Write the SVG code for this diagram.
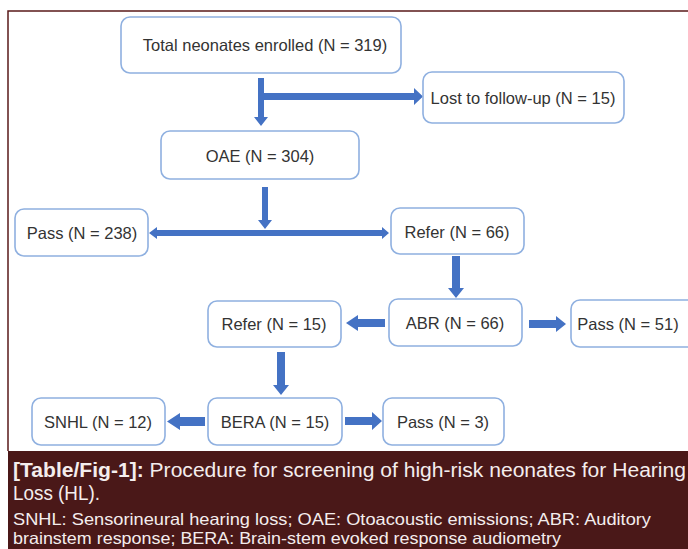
<svg xmlns="http://www.w3.org/2000/svg" width="688" height="549" viewBox="0 0 688 549">
<style>
.box{fill:#fff;stroke:#8fb0e0;stroke-width:1.6}
.t{font-family:"Liberation Sans",Arial,sans-serif;font-size:16.5px;fill:#333;text-anchor:middle;dominant-baseline:central}
.arr{fill:#4472c4}
.cap{font-family:"Liberation Sans",Arial,sans-serif;fill:#f4eded}
</style>
<rect x="0" y="0" width="688" height="549" fill="#fff"/>
<path d="M8,451 V11 H688" fill="none" stroke="#5a1a1a" stroke-width="1.5"/>
<g id="connectors">
  <polygon class="arr" points="258,78 264,78 264,117 268,117 261,126 254,117 258,117"/>
  <polygon class="arr" points="261,93 414,93 414,88 423,96.5 414,105 414,100 261,100"/>
  <polygon class="arr" points="262,187 268,187 268,220 272,220 265,229 258,220 262,220"/>
  <polygon class="arr" points="157,230 382,230 382,227 389,233 382,239 382,236 157,236 157,239 149,233 157,227"/>
  <polygon class="arr" points="452,256 460,256 460,288 464,288 456,298 448,288 452,288"/>
  <polygon class="arr" points="385,319 358,319 358,315 346,323 358,331 358,327 385,327"/>
  <polygon class="arr" points="529,320 556,320 556,316 566,324 556,332 556,328 529,328"/>
  <polygon class="arr" points="277,352 285,352 285,385 289,385 281,395 273,385 277,385"/>
  <polygon class="arr" points="205,417 180,417 180,413 167,421.5 180,430 180,426 205,426"/>
  <polygon class="arr" points="345,417 372,417 372,412 382,421 372,430 372,425 345,425"/>
</g>
<g id="n1"><rect class="box" x="121" y="17" width="280" height="56" rx="9"/><text class="t" x="265" y="45">Total neonates enrolled (N = 319)</text></g>
<g id="n2"><rect class="box" x="423" y="72" width="201" height="51" rx="9"/><text class="t" x="523" y="98">Lost to follow-up (N = 15)</text></g>
<g id="n3"><rect class="box" x="161" y="131" width="198" height="48" rx="9"/><text class="t" x="260" y="156">OAE (N = 304)</text></g>
<g id="n4"><rect class="box" x="15" y="209" width="133" height="47" rx="9"/><text class="t" x="82" y="233">Pass (N = 238)</text></g>
<g id="n5"><rect class="box" x="391" y="208" width="133" height="46" rx="9"/><text class="t" x="457" y="232">Refer (N = 66)</text></g>
<g id="n6"><rect class="box" x="208" y="301" width="133" height="46" rx="9"/><text class="t" x="274" y="324">Refer (N = 15)</text></g>
<g id="n7"><rect class="box" x="389" y="299" width="133" height="47" rx="9"/><text class="t" x="455" y="323">ABR (N = 66)</text></g>
<g id="n8"><rect class="box" x="571" y="300" width="130" height="47" rx="9"/><text class="t" x="628" y="324">Pass (N = 51)</text></g>
<g id="n9"><rect class="box" x="32" y="398" width="133" height="47" rx="9"/><text class="t" x="98" y="422">SNHL (N = 12)</text></g>
<g id="n10"><rect class="box" x="208" y="398" width="134" height="47" rx="9"/><text class="t" x="275" y="422">BERA (N = 15)</text></g>
<g id="n11"><rect class="box" x="383" y="398" width="121" height="47" rx="9"/><text class="t" x="443" y="422">Pass (N = 3)</text></g>
<g id="caption">
  <rect x="8" y="451" width="680" height="98" fill="#4a1818"/>
  <text class="cap" x="13" y="477" font-size="20" textLength="673" lengthAdjust="spacingAndGlyphs"><tspan font-weight="bold">[Table/Fig-1]:</tspan> Procedure for screening of high-risk neonates for Hearing</text>
  <text class="cap" x="13" y="500" font-size="20" textLength="87" lengthAdjust="spacingAndGlyphs">Loss (HL).</text>
  <text class="cap" x="13" y="525" font-size="16.5" textLength="638" lengthAdjust="spacingAndGlyphs">SNHL: Sensorineural hearing loss; OAE: Otoacoustic emissions; ABR: Auditory</text>
  <text class="cap" x="13" y="544" font-size="16.5" textLength="548" lengthAdjust="spacingAndGlyphs">brainstem response; BERA: Brain-stem evoked response audiometry</text>
</g>
</svg>
